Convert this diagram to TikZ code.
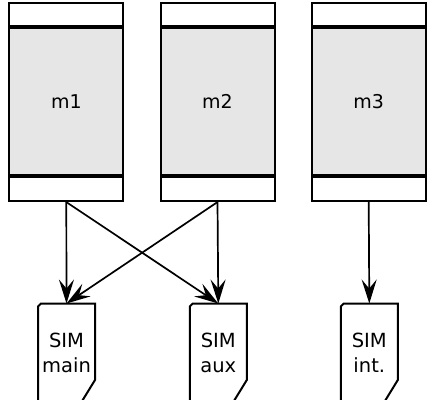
\documentclass[tikz,border=0pt]{standalone}
\usepackage{fontspec}
\setmainfont{DejaVu Sans}
\usetikzlibrary{arrows.meta}
\definecolor{modgray}{HTML}{E6E6E6}
\tikzset{
  modmid/.style={draw, line width=2pt, fill=modgray, minimum width=114pt, minimum height=146.7pt, inner sep=0pt, font=\fontsize{19}{22}\selectfont},
  modtop/.style={draw, line width=2pt, fill=white, minimum width=114pt, minimum height=23.3pt, inner sep=0pt},
  modbot/.style={draw, line width=2pt, fill=white, minimum width=114pt, minimum height=24pt, inner sep=0pt},
  simtext/.style={align=center, font=\fontsize{19.5}{25}\selectfont, inner sep=0pt},
  simcard/.style={line width=2pt},
  conn/.style={line width=1.7pt, -{Stealth[length=24pt, width=15pt, inset=9pt]}}
}
\begin{document}
\begin{tikzpicture}[x=1pt, y=-1pt]
\useasboundingbox (0,0) rectangle (427,399);
\clip (0,0) rectangle (427,399);
% modules
\foreach \n/\x in {1/66.3, 2/217.5, 3/368.7}{
  \node[modmid] (m\n) at (\x,101.7) {m\n};
  \node[modtop, anchor=south] (m\n t) at (m\n.north) {};
  \node[modbot, anchor=north] (m\n b) at (m\n.south) {};
}
% SIM cards
\foreach \c/\x/\txt in {main/66.5/{SIM\\main}, aux/218.3/{SIM\\aux}, int/369.3/{SIM\\int.}}{
  \draw[simcard] (\x-28.5+3,303.5) -- (\x+28.5,303.5) -- (\x+28.5,380) -- (\x+15,402) -- (\x-28.5,402) -- (\x-28.5,306.5) -- cycle;
  \coordinate (s\c) at (\x,303.5);
  \node[simtext] (t\c) at (\x,353) {\txt};
}
% connectors
\draw[conn] (m1b.south) -- (smain);
\draw[conn] (m1b.south) -- (saux);
\draw[conn] (m2b.south) -- (smain);
\draw[conn] (m2b.south) -- (saux);
\draw[conn] (m3b.south) -- (sint);
\end{tikzpicture}
\end{document}
